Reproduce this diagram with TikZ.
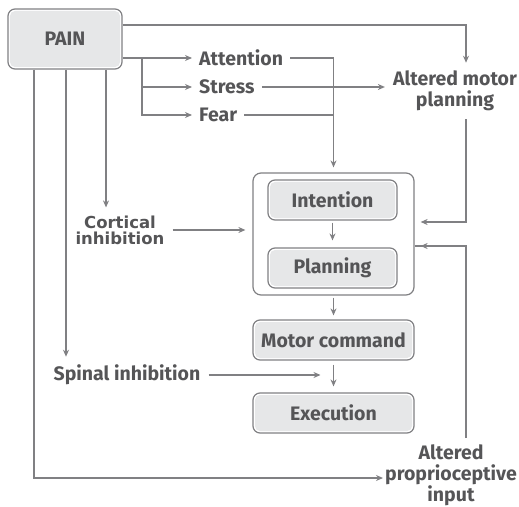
\documentclass[tikz,border=0pt]{standalone}
\usepackage{fontspec}
\setmainfont{Fira Sans}
\newfontfamily\cortfont{DejaVu Sans}
\usetikzlibrary{arrows.meta}
\definecolor{txtgray}{HTML}{555557}
\definecolor{linegray}{HTML}{808083}
\definecolor{boxfill}{HTML}{E6E7E8}
\tikzset{
  lbl/.style={font=\fontsize{19.5bp}{21bp}\selectfont\bfseries, text=txtgray, inner sep=0pt, align=center},
  smalllbl/.style={font=\cortfont\fontsize{16.5bp}{16bp}\selectfont\bfseries, text=txtgray, inner sep=0pt, align=center},
  stepbox/.style={lbl, draw=linegray, line width=1.2bp, rounded corners=7bp, fill=white,
    path picture={\fill[boxfill, rounded corners=5bp]
      ([shift={(2bp,2bp)}]path picture bounding box.south west) rectangle
      ([shift={(-2bp,-2bp)}]path picture bounding box.north east);}},
  groupbox/.style={draw=linegray, line width=1.2bp, rounded corners=8bp},
  conn/.style={draw=linegray, line width=1.3bp},
  arr/.style={conn, -{Stealth[length=7bp,width=6bp]}},
}
\begin{document}
\begin{tikzpicture}[x=1bp,y=-1bp]
\useasboundingbox (0,0) rectangle (519,507);

% boxes
\node[stepbox, minimum width=114bp, minimum height=60bp] (pain) at (65,39) {PAIN};
\node[groupbox, minimum width=161bp, minimum height=122bp] (grp) at (333.5,234) {};
\node[stepbox, minimum width=129bp, minimum height=40bp] (int) at (332.5,200) {Intention};
\node[stepbox, minimum width=129bp, minimum height=40bp] (plan) at (332.5,268) {Planning};
\node[stepbox, minimum width=161bp, minimum height=40bp] (mc) at (333.5,340) {Motor command};
\node[stepbox, minimum width=161bp, minimum height=40bp] (exe) at (333.5,413) {Execution};

% labels
\node[lbl, anchor=west, inner xsep=7bp] (att) at (192,58) {Attention};
\node[lbl, anchor=west, inner xsep=7bp] (str) at (192,87) {Stress};
\node[lbl, anchor=west, inner xsep=7bp] (fear) at (192,115) {Fear};
\node[lbl, inner sep=8bp] (amp) at (455,91) {Altered motor\\planning};
\node[smalllbl, inner sep=8bp] (cort) at (120,230) {Cortical\\inhibition};
\node[lbl, inner sep=8bp] (spin) at (127,375) {Spinal inhibition};
\node[lbl, inner xsep=2bp, inner ysep=3bp] (api) at (451,475) {Altered\\proprioceptive\\input};

% feedback lines run down the right at this x
\coordinate (fb) at (466,0);

% connectors from PAIN to the right
\draw[arr] (pain.east |- 0,25) -| (fb |- amp.north);
\draw[arr] (pain.east |- att) -- (att.west);
\coordinate (split) at (142,58);
\draw[arr] (split) |- (str.west);
\draw[arr] (split) |- (fear.west);

% attention, stress and fear onward
\draw[arr, shorten >=5bp] (att.east) -| (grp.north);
\draw[arr] (str.east) -- (str -| amp.west);
\draw[conn] (fear.east) -- (fear -| grp.north);

% feedback into the intention/planning group
\draw[arr, shorten >=6bp] (fb |- amp.south) |- (grp.east |- 0,222);
\draw[conn, shorten <=3bp] (fb |- api.north) |- (grp.east |- 0,246);
\draw[arr, shorten >=6bp] (fb |- 0,246) -- (grp.east |- 0,246);

% the motor chain
\draw[arr, shorten <=2bp, shorten >=7bp] (int) -- (plan);
\draw[arr, shorten <=2bp, shorten >=4bp] (grp.south) -- (mc.north);
\draw[arr, shorten <=4bp, shorten >=6bp] (mc.south) -- (exe.north);

% connectors from PAIN downward
\draw[arr] (pain.south -| 106,0) -- (106,0 |- cort.north);
\draw[arr, shorten >=7bp] (cort.east) -- (cort -| grp.west);
\draw[arr] (pain.south -| 66,0) -- (66,0 |- spin.north);
\draw[arr, shorten >=13bp] (spin.east) -- (spin -| mc.south);
\draw[arr] (pain.south -| 34,0) |- ([yshift=-3bp]api.west);
\end{tikzpicture}
\end{document}
